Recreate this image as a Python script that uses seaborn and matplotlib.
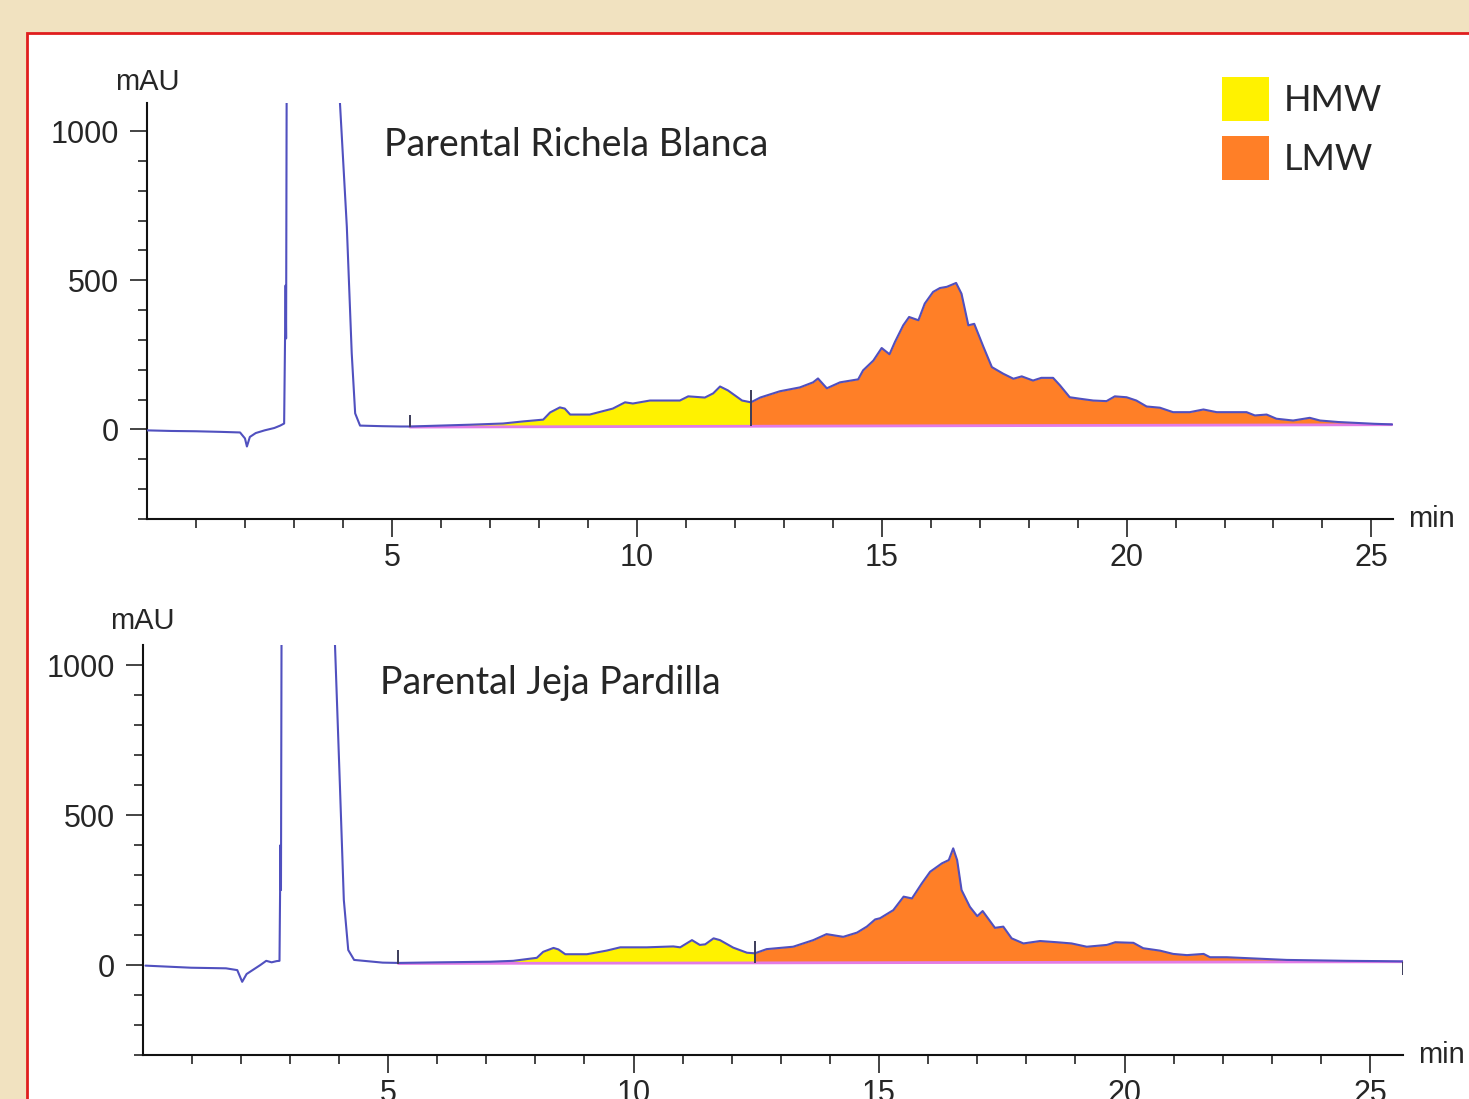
import numpy as np
import matplotlib
matplotlib.use("Agg")
import matplotlib.pyplot as plt
import seaborn as sns
from matplotlib.patches import Patch, Rectangle
from matplotlib.ticker import FixedLocator

# Parental Richela Blanca - retention time (min) and absorbance (mAU)
rb_time = [0.0, 0.5, 1.0, 1.5, 1.9, 2.0, 2.04, 2.10, 2.22, 2.40, 2.60, 2.72, 2.80,
           2.83, 2.84, 2.87, 3.60, 3.94, 4.08, 4.18, 4.25, 4.35, 4.80, 5.17, 5.37,
           5.98, 6.6, 7.27, 7.68, 8.09, 8.23, 8.43, 8.53, 8.64, 9.04, 9.51, 9.76,
           9.92, 10.27, 10.88, 11.05, 11.39, 11.56, 11.70, 11.86, 12.15, 12.33,
           12.52, 12.92, 13.33, 13.60, 13.70, 13.88, 14.15, 14.52, 14.62, 14.83,
           15.00, 15.16, 15.27, 15.44, 15.56, 15.75, 15.88, 16.05, 16.19, 16.33,
           16.52, 16.63, 16.77, 16.89, 17.08, 17.25, 17.48, 17.69, 17.86, 18.09,
           18.26, 18.50, 18.64, 18.84, 19.05, 19.32, 19.59, 19.76, 20.00, 20.20,
           20.41, 20.68, 20.95, 21.29, 21.57, 21.84, 22.45, 22.62, 22.86, 23.06,
           23.40, 23.74, 23.95, 24.32, 25.06, 25.42]
rb_mau = [-3, -5, -6, -8, -10, -30, -57, -25, -12, -3, 5, 13, 20,
          483, 305, 2500, 2500, 1093, 679, 255, 54, 13, 11, 10, 10,
          13, 16, 20, 27, 33, 57, 74, 70, 50, 50, 70, 91,
          87, 97, 97, 111, 107, 121, 144, 131, 97, 91,
          107, 128, 141, 158, 171, 138, 158, 168, 198, 231,
          273, 252, 293, 349, 377, 366, 422, 461, 474, 478,
          491, 455, 349, 354, 276, 209, 187, 170, 178, 164,
          173, 173, 148, 108, 103, 97, 95, 111, 108, 97,
          77, 73, 58, 58, 67, 58, 58, 47, 50, 36,
          30, 39, 30, 25, 19, 17]
rb_limits = [5.37, 12.33, 25.42]      # integration start, HMW/LMW cut, end
rb_base = [8, 16]                     # baseline mAU at start / end
rb_marks_x = [5.37, 12.33]
rb_marks_lo = [8, 10]
rb_marks_hi = [50, 131]

# Parental Jeja Pardilla
jp_time = [0.06, 0.99, 1.70, 1.93, 2.03, 2.12, 2.40, 2.52, 2.63, 2.73, 2.79,
           2.81, 2.82, 2.85, 3.60, 3.92, 4.02, 4.10, 4.19, 4.31, 4.89, 5.21,
           6.06, 7.08, 7.55, 8.03, 8.16, 8.37, 8.47, 8.61, 9.05, 9.45, 9.73,
           10.27, 10.81, 10.95, 11.19, 11.35, 11.46, 11.63, 11.76, 12.03, 12.31,
           12.47, 12.71, 13.25, 13.66, 13.93, 14.27, 14.55, 14.75, 14.92, 15.02,
           15.29, 15.50, 15.67, 15.87, 16.04, 16.28, 16.42, 16.51, 16.59, 16.68,
           16.85, 17.00, 17.11, 17.36, 17.53, 17.70, 17.94, 18.28, 18.62, 18.92,
           19.23, 19.64, 19.81, 20.18, 20.38, 20.72, 20.99, 21.27, 21.61, 21.74,
           22.08, 22.62, 23.30, 24.53, 25.20, 25.67]
jp_mau = [-2, -9, -11, -17, -56, -30, 0, 14, 9, 13, 14,
          400, 250, 2500, 2500, 1067, 600, 217, 50, 17, 8, 7,
          9, 11, 14, 24, 44, 57, 52, 36, 36, 48, 59,
          59, 62, 59, 83, 67, 69, 89, 83, 58, 41,
          39, 53, 61, 83, 103, 94, 108, 128, 152, 156,
          183, 228, 222, 272, 311, 339, 350, 389, 350, 250,
          194, 163, 180, 124, 128, 89, 72, 80, 76, 72,
          61, 67, 76, 74, 56, 48, 37, 33, 37, 26,
          26, 22, 17, 14, 13, 12]
jp_limits = [5.21, 12.47, 25.67]
jp_base = [5, 11]
jp_marks_x = [5.21, 12.47, 25.67]
jp_marks_lo = [5, 6, -33]
jp_marks_hi = [50, 80, 11]

legend_labels = ["HMW", "LMW"]
x_major = [5, 10, 15, 20, 25]
y_major = [0, 500, 1000]

YELLOW = "#fff200"
ORANGE = "#ff7f27"
TRACE = "#5050bf"
PINK = "#e27ce6"
MARK = "#3c3c5a"
TICKFONT = "Liberation Sans"
TEXTFONT = "Lato"

sns.set_style("ticks")
plt.rcParams["font.family"] = [TICKFONT, "DejaVu Sans"]


def draw_panel(ax, t, s, lim, base, mx, mlo, mhi, title, xmax, ytop, title_y, unit_off):
    t = np.array(t, dtype=float)
    s = np.array(s, dtype=float)
    b = np.interp(t, [lim[0], lim[2]], base)
    hmw = (t >= lim[0]) & (t <= lim[1])
    lmw = (t >= lim[1]) & (t <= lim[2])
    ax.fill_between(t[hmw], b[hmw], s[hmw], color=YELLOW, lw=0, zorder=1)
    ax.fill_between(t[lmw], b[lmw], s[lmw], color=ORANGE, lw=0, zorder=1)
    sns.lineplot(x=[lim[0], lim[2]], y=base, ax=ax, color=PINK, lw=2, zorder=2)
    sns.lineplot(x=t, y=s, ax=ax, color=TRACE, lw=1.5, sort=False,
                 estimator=None, zorder=3)
    ax.vlines(mx, mlo, mhi, color=MARK, lw=1.4, zorder=4)

    ax.set_xlim(0, xmax)
    ax.set_ylim(-300, ytop)
    sns.despine(ax=ax)
    for sp in ["left", "bottom"]:
        ax.spines[sp].set_linewidth(1.5)
        ax.spines[sp].set_color("#111111")
    ax.xaxis.set_major_locator(FixedLocator(x_major))
    ax.xaxis.set_minor_locator(FixedLocator([v for v in range(1, 26) if v % 5]))
    ax.yaxis.set_major_locator(FixedLocator(y_major))
    ax.yaxis.set_minor_locator(FixedLocator([v for v in range(-300, 1000, 100) if v % 500]))
    ax.tick_params(axis="x", which="major", length=13, width=1.1, pad=4,
                   labelsize=22, color="#111111")
    ax.tick_params(axis="y", which="major", length=12, width=1.1, pad=8,
                   labelsize=22, color="#111111")
    ax.tick_params(which="minor", length=6.5, width=1.1, color="#111111")
    ax.set_xlabel("")
    ax.set_ylabel("")
    ax.set_facecolor("none")
    ax.annotate("mAU", xy=(0, 1), xycoords="axes fraction", xytext=(0, unit_off),
                textcoords="offset points", ha="center", va="center", fontsize=21)
    ax.annotate("min", xy=(1, 0), xycoords="axes fraction", xytext=(11, 0),
                textcoords="offset points", ha="left", va="center", fontsize=21)
    ax.text(4.84, title_y, title, family=TEXTFONT,
            fontsize=27, ha="left", va="center")


fig = plt.figure(figsize=(14.69, 10.99), dpi=100)
fig.patch.set_facecolor("#f1e2c0")
fig.add_artist(Rectangle((27 / 1469, -0.05), 1.2, 1.05 - 33 / 1099,
                         transform=fig.transFigure, facecolor="white",
                         edgecolor="#e01e1e", lw=2, zorder=0))

ax1 = fig.add_axes([147 / 1469, 1 - 519 / 1099, 1246 / 1469, 416 / 1099])
ax2 = fig.add_axes([142.5 / 1469, 1 - 1055 / 1099, 1260.5 / 1469, 410 / 1099])

draw_panel(ax1, rb_time, rb_mau, rb_limits, rb_base, rb_marks_x, rb_marks_lo,
           rb_marks_hi, "Parental Richela Blanca", 25.44, 1094, 953, 15)
draw_panel(ax2, jp_time, jp_mau, jp_limits, jp_base, jp_marks_x, jp_marks_lo,
           jp_marks_hi, "Parental Jeja Pardilla", 25.67, 1067, 940, 17)

handles = [Patch(facecolor=c, edgecolor="none", lw=0) for c in [YELLOW, ORANGE]]
fig.legend(handles, legend_labels, loc="upper left",
           bbox_to_anchor=(1222 / 1469, 1 - 77 / 1099), frameon=False,
           borderpad=0, borderaxespad=0, handlelength=1.3, handleheight=1.5,
           handletextpad=0.42, labelspacing=0.42,
           prop={"family": TEXTFONT, "size": 26})

fig.savefig("out.png", dpi=100, facecolor=fig.get_facecolor())
